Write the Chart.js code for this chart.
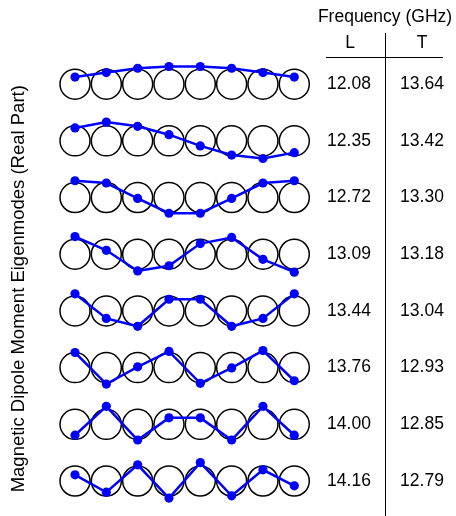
<!DOCTYPE html>
<html lang="en">
<head>
    <meta charset="UTF-8">
    <title>Magnetic Dipole Moment Eigenmodes</title>
    <script src="https://cdn.jsdelivr.net/npm/chart.js"></script>
    <style>
        body {
            margin: 0;
            overflow: hidden;
            background-color: #ffffff;
        }
        /* a little taller than the window so the bottom row is not cut by the chart area */
        #wrap {
            width: 456px;
            height: 534px;
            position: relative;
        }
    </style>
</head>
<body>
    <div id="wrap"><canvas id="modeChart"></canvas></div>

    <script>
        // dipole sites along the chain
        const sites = [1, 2, 3, 4, 5, 6, 7, 8];

        // mode frequencies (GHz), longitudinal and transverse
        const freqL = ['12.08', '12.35', '12.72', '13.09', '13.44', '13.76', '14.00', '14.16'];
        const freqT = ['13.64', '13.42', '13.30', '13.18', '13.04', '12.93', '12.85', '12.79'];

        // real part of the dipole moment at each site (in units of the circle radius)
        const mode1 = [0.47, 0.77, 1.06, 1.18, 1.18, 1.06, 0.77, 0.47];
        const mode2 = [0.86, 1.25, 0.97, 0.41, -0.34, -0.95, -1.18, -0.79];
        const mode3 = [1.12, 0.97, -0.06, -1.05, -1.05, -0.06, 0.97, 1.12];
        const mode4 = [1.18, 0.26, -1.12, -0.77, 0.71, 1.12, -0.34, -1.20];
        const mode5 = [1.14, -0.50, -1.03, 0.78, 0.78, -1.03, -0.50, 1.14];
        const mode6 = [1.01, -1.10, 0.05, 1.08, -1.05, -0.02, 1.14, -0.88];
        const mode7 = [-0.73, 1.20, -1.05, 0.43, 0.43, -1.05, 1.20, -0.73];
        const mode8 = [0.41, -0.75, 1.08, -1.14, 1.23, -0.99, 0.75, -0.32];
        const modes = [mode1, mode2, mode3, mode4, mode5, mode6, mode7, mode8];

        const rowGap = 3.79; // vertical offset between modes
        const font = '"Liberation Sans", Arial, Helvetica, sans-serif';

        const datasets = [];
        modes.forEach((m, k) => {
            const base = -k * rowGap;
            // blue eigenmode line
            datasets.push({
                type: 'line',
                label: 'Mode ' + (k + 1),
                data: sites.map((s, i) => ({ x: s, y: base + m[i] })),
                borderColor: '#0000ff',
                backgroundColor: '#0000ff',
                borderWidth: 2.5,
                pointRadius: 4.6,
                pointBorderWidth: 0,
                tension: 0,
                clip: false,
                order: 0
            });
            // black circles for the particles
            datasets.push({
                type: 'scatter',
                label: 'Sites ' + (k + 1),
                data: sites.map(s => ({ x: s, y: base })),
                pointRadius: 15,
                borderColor: '#000000',
                backgroundColor: 'rgba(0,0,0,0)',
                borderWidth: 1.5,
                clip: false,
                order: 1
            });
        });

        // frequency table on the right
        const tablePlugin = {
            id: 'freqTable',
            afterDraw(chart) {
                const ctx = chart.ctx;
                const yScale = chart.scales.y;
                ctx.save();
                ctx.fillStyle = '#000000';
                ctx.strokeStyle = '#000000';
                ctx.lineWidth = 1;
                ctx.font = '17.5px ' + font;
                ctx.textAlign = 'center';
                ctx.textBaseline = 'middle';
                ctx.fillText('Frequency (GHz)', 385, 17);
                ctx.fillText('L', 350, 43);
                ctx.fillText('T', 422, 43);
                ctx.beginPath();
                ctx.moveTo(326, 57.5);
                ctx.lineTo(443, 57.5);
                ctx.moveTo(385.5, 33);
                ctx.lineTo(385.5, 520);
                ctx.stroke();
                freqL.forEach((f, k) => {
                    const py = yScale.getPixelForValue(-k * rowGap);
                    ctx.fillText(f, 349, py);
                    ctx.fillText(freqT[k], 422, py);
                });
                ctx.restore();
            }
        };

        new Chart(document.getElementById('modeChart'), {
            data: { datasets: datasets },
            options: {
                responsive: true,
                maintainAspectRatio: false,
                animation: false,
                events: [],
                layout: {
                    padding: { left: 6, right: 36.4, top: 60, bottom: 0 }
                },
                plugins: {
                    legend: { display: false },
                    tooltip: { enabled: false }
                },
                scales: {
                    x: {
                        type: 'linear',
                        display: false,
                        min: 0,
                        max: 12
                    },
                    y: {
                        type: 'linear',
                        min: -28.97,
                        max: 1.613,
                        afterFit: s => { s.width = 37.67; },
                        title: {
                            display: true,
                            text: 'Magnetic Dipole Moment Eigenmodes (Real Part)',
                            color: '#000000',
                            font: { family: font, size: 18.5, lineHeight: 1.2 },
                            padding: { top: 1.9, bottom: 4 }
                        },
                        ticks: { display: false },
                        grid: { display: false, drawTicks: false },
                        border: { display: false }
                    }
                }
            },
            plugins: [tablePlugin]
        });
    </script>
</body>
</html>
